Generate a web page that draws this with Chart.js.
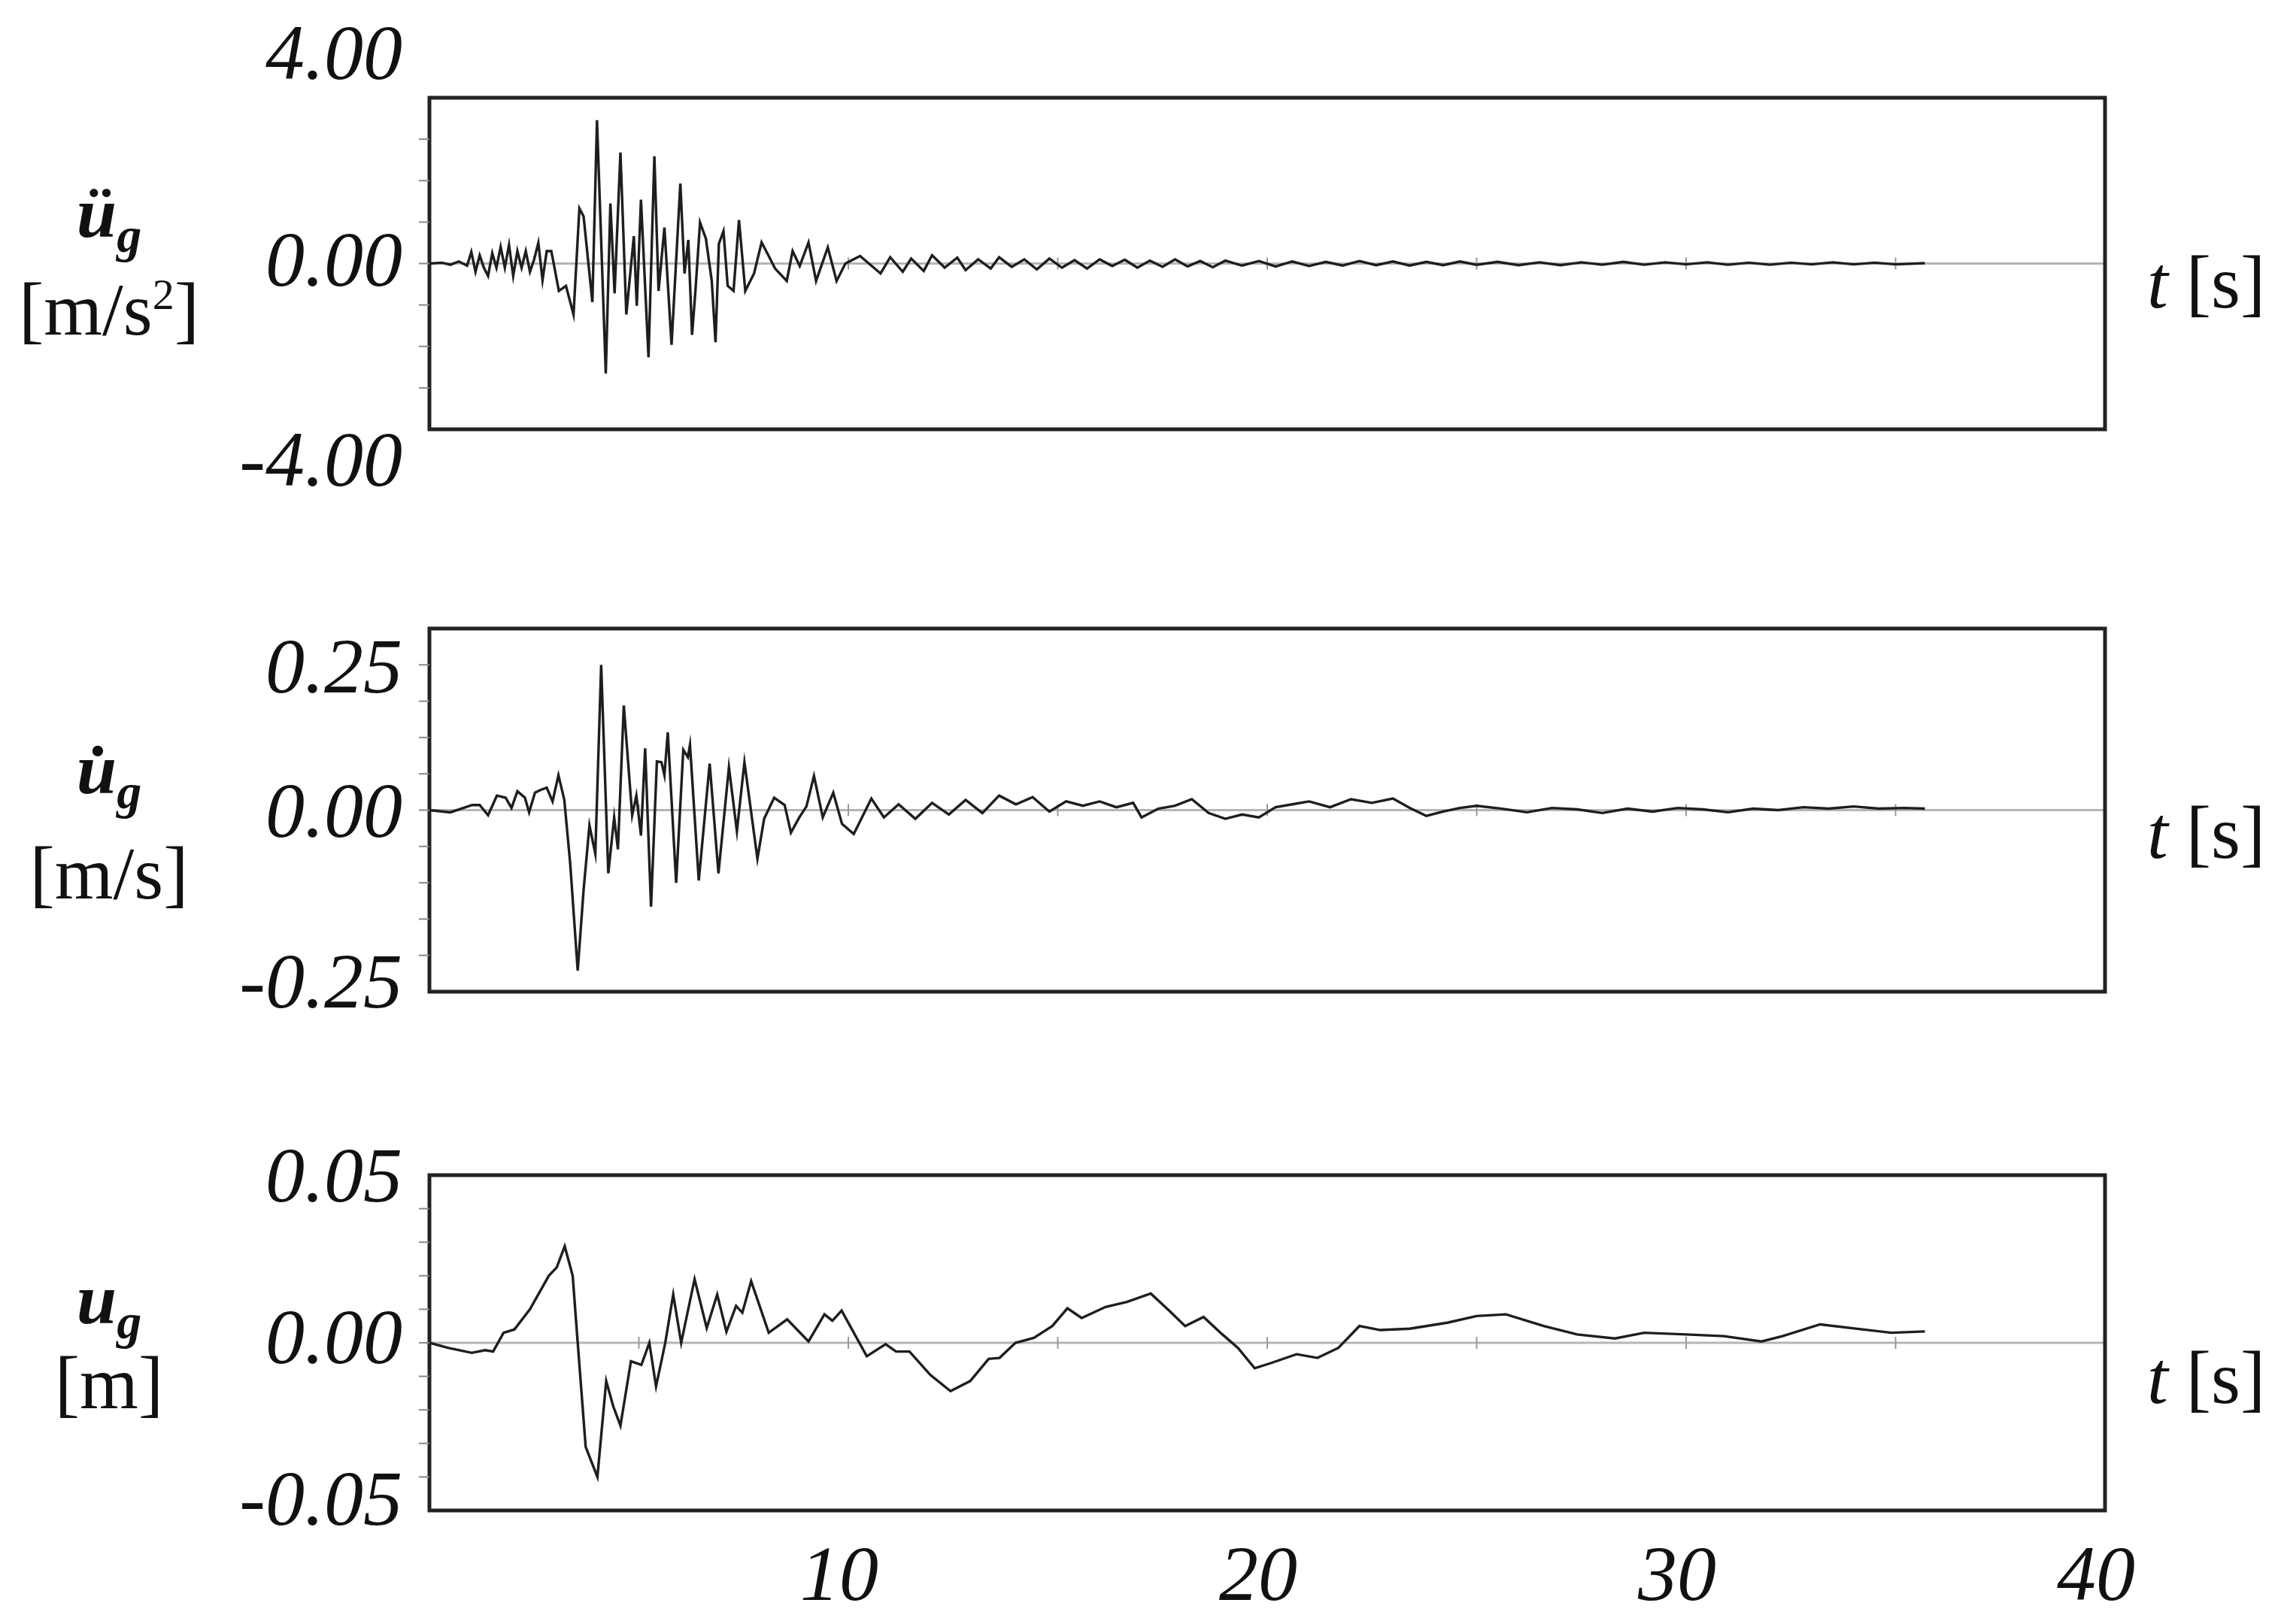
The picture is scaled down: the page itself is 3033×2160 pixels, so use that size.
<!DOCTYPE html>
<html>
<head>
<meta charset="utf-8">
<script src="https://cdn.jsdelivr.net/npm/chart.js@4/dist/chart.umd.min.js"></script>
<style>
  body { margin: 0; background: #fff; width: 3033px; height: 2160px; position: relative; overflow: hidden; font-family: "Liberation Serif", serif; color: #111; }
  canvas { position: absolute; left: 0; }
  .lab { position: absolute; text-align: center; width: 290px; font-size: 100px; line-height: 1; }
  .sym { font-weight: bold; font-style: italic; font-size: 96px; }
  .sym sub { font-size: 66px; }
  .ts { position: absolute; left: 2855px; font-size: 100px; }
  .ts i { margin-right: 24px; }
</style>
</head>
<body>
<canvas id="accChart"></canvas>
<canvas id="velChart"></canvas>
<canvas id="dispChart"></canvas>

<div class="lab sym" style="left:0; top:235px;">ü<sub>g</sub></div>
<div class="lab" style="left:0; top:362px;">[m/s<sup style="font-size:58px">2</sup>]</div>
<div class="ts" style="top:318px;"><i>t</i>[s]</div>

<div class="lab sym" style="left:0; top:975px;">u̇<sub>g</sub></div>
<div class="lab" style="left:0; top:1112px;">[m/s]</div>
<div class="ts" style="top:1050px;"><i>t</i>[s]</div>

<div class="lab sym" style="left:0; top:1680px;">u<sub>g</sub></div>
<div class="lab" style="left:0; top:1790px;">[m]</div>
<div class="ts" style="top:1775px;"><i>t</i>[s]</div>

<script>
// ground acceleration [m/s2]
const accT = [0,0.3,0.5,0.7,0.9,1.0,1.1,1.2,1.3,1.4,1.5,1.6,1.7,1.8,1.9,2.0,2.1,2.2,2.3,2.4,2.5,2.6,2.7,2.8,2.91,3.09,3.26,3.44,3.58,3.68,3.89,4.0,4.21,4.32,4.42,4.56,4.70,4.88,4.95,5.05,5.23,5.37,5.47,5.61,5.78,5.99,6.09,6.18,6.27,6.35,6.46,6.6,6.74,6.83,6.91,7.02,7.12,7.26,7.39,7.54,7.75,7.93,8.1,8.25,8.53,8.67,8.84,9.05,9.23,9.51,9.72,9.93,10.28,10.77,
  11.0,11.3,11.5,11.8,12.0,12.3,12.6,12.8,13.1,13.4,13.6,13.9,14.2,14.5,14.8,15.1,15.4,15.7,16.0,16.3,16.6,16.9,17.2,17.5,17.8,18.1,18.4,18.7,19.0,19.4,19.8,20.2,20.6,21.0,21.4,21.8,22.2,22.6,23.0,23.4,23.8,24.2,24.6,25.0,25.5,26.0,26.5,27.0,27.5,28.0,28.5,29.0,29.5,30.0,30.5,31.0,31.5,32.0,32.5,33.0,33.5,34.0,34.5,35.0,35.7];
const accV = [0,0.02,-0.03,0.05,-0.05,0.28,-0.2,0.2,-0.1,-0.3,0.25,-0.1,0.4,-0.1,0.45,-0.3,0.3,-0.1,0.3,-0.2,0.1,0.5,-0.4,0.3,0.3,-0.66,-0.54,-1.23,1.33,1.14,-0.93,3.46,-2.65,1.45,-0.72,2.68,-1.23,0.66,-1.02,1.54,-2.26,2.59,-0.66,0.87,-1.96,1.93,-0.24,0.57,-1.72,-0.66,0.99,0.6,-0.42,-1.9,0.48,0.78,-0.54,-0.66,1.05,-0.66,-0.24,0.51,0.18,-0.12,-0.42,0.3,-0.06,0.51,-0.42,0.39,-0.42,0,0.18,-0.24,
  0.15,-0.2,0.12,-0.18,0.2,-0.1,0.14,-0.16,0.1,-0.12,0.15,-0.08,0.1,-0.14,0.12,-0.1,0.08,-0.12,0.1,-0.06,0.09,-0.1,0.07,-0.08,0.1,-0.07,0.06,-0.09,0.07,-0.05,0.06,-0.07,0.05,-0.06,0.04,-0.05,0.06,-0.04,0.05,-0.05,0.04,-0.04,0.05,-0.03,0.04,-0.04,0.03,-0.04,0.03,-0.03,0.04,-0.03,0.03,-0.02,0.03,-0.03,0.02,-0.03,0.02,-0.02,0.03,-0.02,0.02,-0.02,0.01];

// ground velocity [m/s]
const velT = [0,0.5,1.02,1.2,1.4,1.61,1.82,1.96,2.1,2.28,2.38,2.52,2.66,2.8,2.94,3.08,3.22,3.36,3.54,3.68,3.82,3.96,4.1,4.27,4.41,4.5,4.64,4.84,4.94,5.05,5.15,5.29,5.43,5.54,5.61,5.69,5.89,6.06,6.17,6.22,6.43,6.69,6.9,7.15,7.34,7.52,7.83,7.99,8.23,8.48,8.63,8.83,9.0,9.18,9.39,9.64,9.85,10.13,10.55,10.85,
  11.2,11.6,12.0,12.4,12.8,13.2,13.6,14.0,14.4,14.8,15.2,15.6,16.0,16.4,16.8,17.0,17.4,17.8,18.2,18.6,19.0,19.4,19.8,20.2,20.6,21.0,21.5,22.0,22.5,23.0,23.4,23.8,24.2,24.6,25.0,25.6,26.2,26.8,27.4,28.0,28.6,29.2,29.8,30.4,31.0,31.6,32.2,32.8,33.4,34.0,34.6,35.2,35.7];
const velV = [0,-0.003,0.007,0.007,-0.007,0.02,0.017,0.003,0.026,0.017,-0.003,0.024,0.028,0.031,0.012,0.048,0.014,-0.073,-0.221,-0.11,-0.021,-0.06,0.2,-0.087,-0.01,-0.054,0.144,-0.007,0.02,-0.035,0.085,-0.133,0.067,0.066,0.048,0.107,-0.1,0.083,0.073,0.09,-0.097,0.064,-0.087,0.059,-0.029,0.066,-0.067,-0.012,0.017,0.007,-0.031,-0.01,0.005,0.047,-0.01,0.024,-0.019,-0.033,0.016,-0.01,
  0.008,-0.012,0.01,-0.006,0.014,-0.004,0.02,0.008,0.018,-0.002,0.012,0.006,0.012,0.004,0.01,-0.01,0.002,0.006,0.015,-0.004,-0.012,-0.006,-0.01,0.004,0.008,0.012,0.004,0.015,0.01,0.016,0.003,-0.008,-0.002,0.003,0.006,0.002,-0.003,0.003,0.001,-0.004,0.002,-0.002,0.003,0.001,-0.003,0.002,0.0,0.004,0.002,0.005,0.002,0.003,0.002];

// ground displacement [m]
const dispT = [0,0.44,1.01,1.33,1.52,1.77,2.03,2.4,2.85,3.04,3.23,3.42,3.54,3.73,4.01,4.22,4.39,4.56,4.81,5.06,5.25,5.41,5.63,5.82,6.01,6.33,6.62,6.87,7.09,7.32,7.47,7.68,8.1,8.54,9.05,9.43,9.62,9.84,10.44,10.89,11.14,11.46,11.96,12.44,12.91,13.35,13.61,13.99,14.43,14.87,15.23,15.57,16.14,16.65,17.22,17.66,18.04,18.48,18.92,19.3,
  19.7,20.1,20.7,21.2,21.7,22.2,22.7,23.4,24.3,25.0,25.7,26.6,27.4,28.3,29.0,30.0,30.9,31.8,32.3,33.2,34.2,34.9,35.7];
const dispV = [0,-0.0015,-0.003,-0.0022,-0.0026,0.003,0.004,0.01,0.02,0.0225,0.0288,0.02,0,-0.031,-0.04,-0.0114,-0.019,-0.0247,-0.0055,-0.0066,0,-0.013,0,0.0144,0,0.019,0.0044,0.0144,0.0033,0.011,0.009,0.0184,0.003,0.007,0.0004,0.0085,0.0066,0.0096,-0.004,-0.0004,-0.0026,-0.0026,-0.0096,-0.0144,-0.0114,-0.0048,-0.0045,0,0.0015,0.005,0.0103,0.0074,0.0107,0.0122,0.0147,0.0096,0.005,0.0077,0.0026,-0.0015,
  -0.0076,-0.006,-0.0034,-0.0045,-0.0015,0.005,0.0038,0.0042,0.006,0.008,0.0085,0.005,0.0025,0.0013,0.003,0.0025,0.002,0.0004,0.002,0.0055,0.004,0.003,0.0034];

const xTickLabels = ['10', '20', '30', '40'];
const xTicks = [10, 20, 30, 40];

const frame = {
  id: 'frame',
  beforeDatasetsDraw(chart, args, o) {
    const {ctx, chartArea: a, scales: {x, y}} = chart;
    ctx.save();
    const y0 = y.getPixelForValue(0);
    ctx.strokeStyle = '#b5b5b5';
    ctx.lineWidth = 3;
    ctx.beginPath(); ctx.moveTo(a.left, y0); ctx.lineTo(a.right, y0); ctx.stroke();
    ctx.strokeStyle = '#999';
    ctx.lineWidth = 2;
    for (let t = 5; t < 40; t += 5) {
      const px = x.getPixelForValue(t);
      ctx.beginPath(); ctx.moveTo(px, y0 - 8); ctx.lineTo(px, y0 + 8); ctx.stroke();
    }
    ctx.restore();
  },
  afterDatasetsDraw(chart, args, o) {
    const {ctx, chartArea: a, scales: {y}} = chart;
    ctx.save();
    ctx.strokeStyle = '#222';
    ctx.lineWidth = 5;
    ctx.strokeRect(a.left, a.top, a.right - a.left, a.bottom - a.top);
    ctx.lineWidth = 2;
    ctx.strokeStyle = '#888';
    const n = Math.round((y.max - y.min) / o.step);
    for (let i = 1; i < n; i++) {
      const py = y.getPixelForValue(y.min + i * o.step);
      ctx.beginPath(); ctx.moveTo(a.left - 14, py); ctx.lineTo(a.left, py); ctx.stroke();
    }
    ctx.fillStyle = '#111';
    ctx.font = 'italic 104px "Liberation Serif"';
    ctx.textAlign = 'right';
    ctx.textBaseline = 'middle';
    o.labels.forEach(l => {
      ctx.fillText(l.text, a.left - 36, y.getPixelForValue(l.value) + l.dy);
    });
    if (o.xLabels) {
      ctx.textAlign = 'center';
      ctx.textBaseline = 'top';
      const xs = chart.scales.x;
      xTicks.forEach((t, i) => ctx.fillText(xTickLabels[i], xs.getPixelForValue(t) - 12, a.bottom + 40));
    }
    ctx.restore();
  }
};

function makeChart(id, top, height, pad, ts, vs, range, step, labels, xLabels) {
  const cv = document.getElementById(id);
  cv.style.top = top + 'px';
  cv.style.width = '3033px';
  cv.style.height = height + 'px';
  return new Chart(cv, {
    type: 'line',
    data: {
      datasets: [{
        data: ts.map((t, i) => ({x: t, y: vs[i]})),
        borderColor: '#1e1e1e',
        borderWidth: 3.4,
        pointRadius: 0,
        tension: 0
      }]
    },
    options: {
      responsive: false,
      maintainAspectRatio: false,
      animation: false,
      layout: {padding: {left: 571, right: 234, top: pad.top, bottom: pad.bottom}},
      scales: {
        x: {type: 'linear', min: 0, max: 40, display: false},
        y: {min: -range, max: range, display: false}
      },
      plugins: {
        legend: {display: false},
        tooltip: {enabled: false},
        frame: {step: step, labels: labels, xLabels: xLabels}
      }
    },
    plugins: [frame]
  });
}

makeChart('accChart', 30, 640, {top: 100, bottom: 99}, accT, accV, 4, 1, [
  {text: '4.00', value: 4, dy: -52},
  {text: '0.00', value: 0, dy: 2},
  {text: '-4.00', value: -4, dy: 48}
], false);

makeChart('velChart', 760, 640, {top: 76, bottom: 81}, velT, velV, 0.25, 0.05, [
  {text: '0.25', value: 0.25, dy: 58},
  {text: '0.00', value: 0, dy: 8},
  {text: '-0.25', value: -0.25, dy: -6}
], false);

makeChart('dispChart', 1490, 670, {top: 73, bottom: 151}, dispT, dispV, 0.05, 0.01, [
  {text: '0.05', value: 0.05, dy: 8},
  {text: '0.00', value: 0, dy: 0},
  {text: '-0.05', value: -0.05, dy: -8}
], true);
</script>
</body>
</html>
